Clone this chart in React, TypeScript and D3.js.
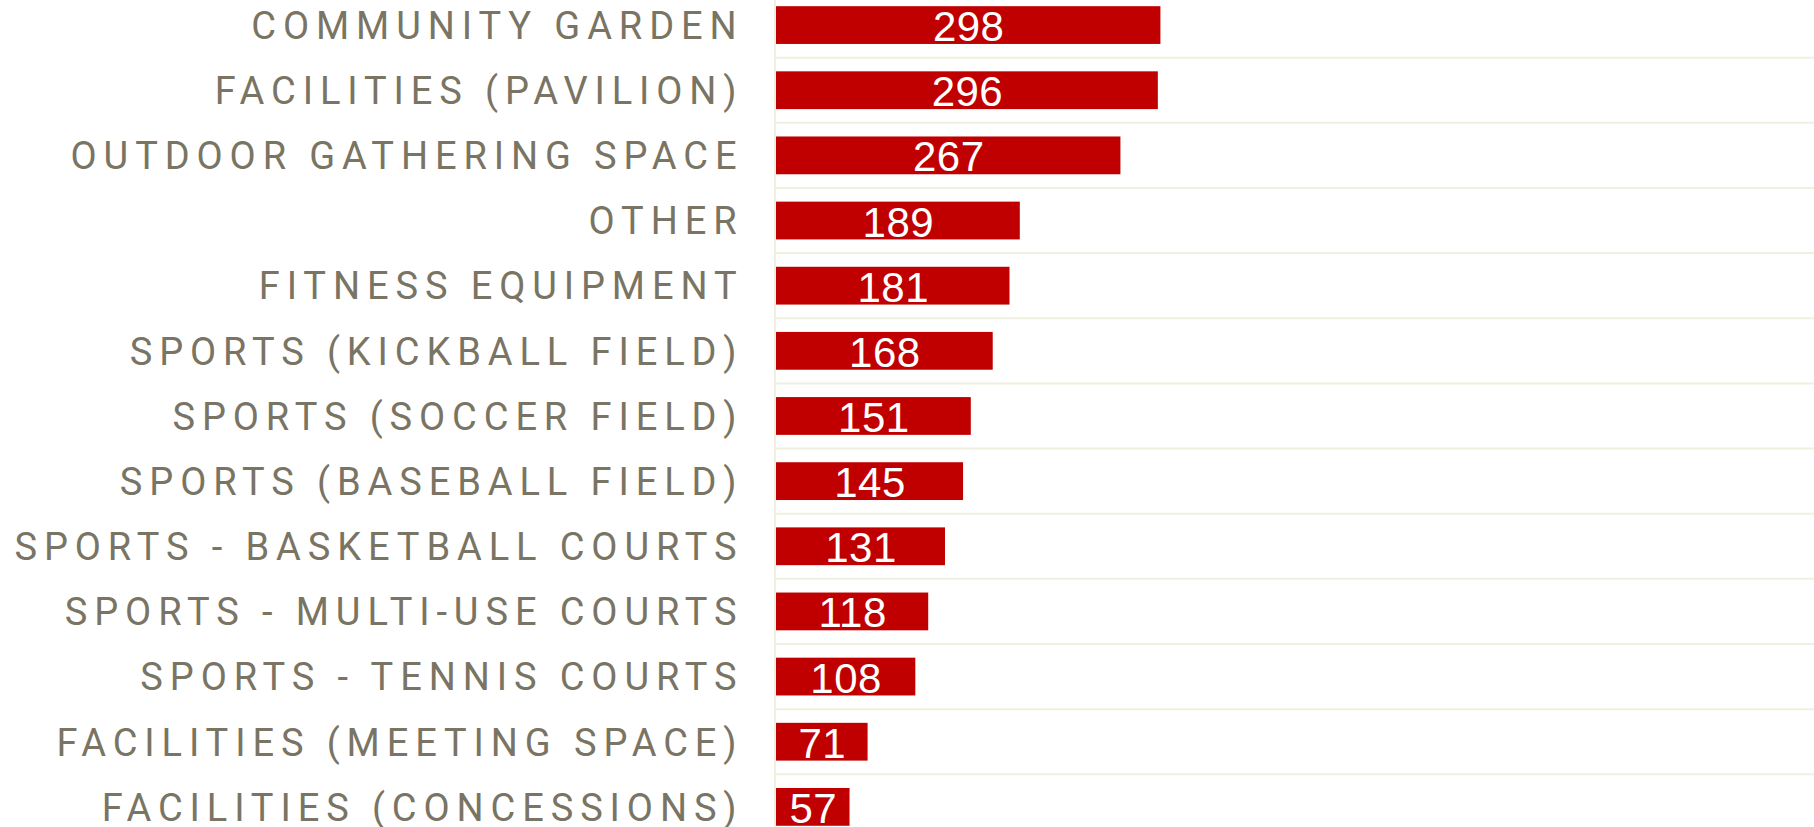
import React from "react";
import * as d3 from "d3";

const categories = [
  "COMMUNITY GARDEN",
  "FACILITIES (PAVILION)",
  "OUTDOOR GATHERING SPACE",
  "OTHER",
  "FITNESS EQUIPMENT",
  "SPORTS (KICKBALL FIELD)",
  "SPORTS (SOCCER FIELD)",
  "SPORTS (BASEBALL FIELD)",
  "SPORTS - BASKETBALL COURTS",
  "SPORTS - MULTI-USE COURTS",
  "SPORTS - TENNIS COURTS",
  "FACILITIES (MEETING SPACE)",
  "FACILITIES (CONCESSIONS)",
];
const values = [298, 296, 267, 189, 181, 168, 151, 145, 131, 118, 108, 71, 57];
const xDomain = [0, 800];

const W = 1814;
const H = 827;
const plotLeft = 776;
const plotRight = 1808;
const bandTop = -7.5;
const step = 65.15;

export default function App() {
  const x = d3.scaleLinear().domain(xDomain).range([plotLeft, plotRight]);
  const y = d3
    .scaleBand<string>()
    .domain(categories)
    .range([bandTop, bandTop + step * categories.length])
    .paddingInner(0.42)
    .paddingOuter(0.21);
  const st = y.step();
  const bw = y.bandwidth();
  const boundaries = d3.range(1, categories.length + 1).map((k) => bandTop + k * st);

  return (
    <svg
      width={W}
      height={H}
      style={{ position: "absolute", left: 0, top: 0, background: "#fff" }}
    >
      {boundaries.map((b, i) => (
        <line key={i} x1={plotLeft - 1} x2={plotRight + 6} y1={b} y2={b} stroke="#f0f0df" strokeWidth={2} />
      ))}
      <line x1={plotLeft - 1} x2={plotLeft - 1} y1={0} y2={H} stroke="#f0f0df" strokeWidth={2} />
      {categories.map((c, i) => {
        const yy = y(c)!;
        const cy = yy + bw / 2;
        return (
          <g key={c}>
            <rect x={x(0)} y={yy} width={x(values[i]) - x(0)} height={bw} fill="#c00000" />
            <text
              x={(x(0) + x(values[i])) / 2 + 0.5}
              y={cy + 16}
              textAnchor="middle"
              fill="#ffffff"
              fontFamily="'Liberation Sans', Arial, sans-serif"
              fontSize={42}
              letterSpacing={0.5}
            >
              {values[i]}
            </text>
            <text
              x={743.5}
              y={cy + 13.8}
              textAnchor="end"
              fill="#797463"
              fontFamily="Roboto, 'Liberation Sans', sans-serif"
              fontSize={38}
              letterSpacing={6.9}
            >
              {c}
            </text>
          </g>
        );
      })}
    </svg>
  );
}
